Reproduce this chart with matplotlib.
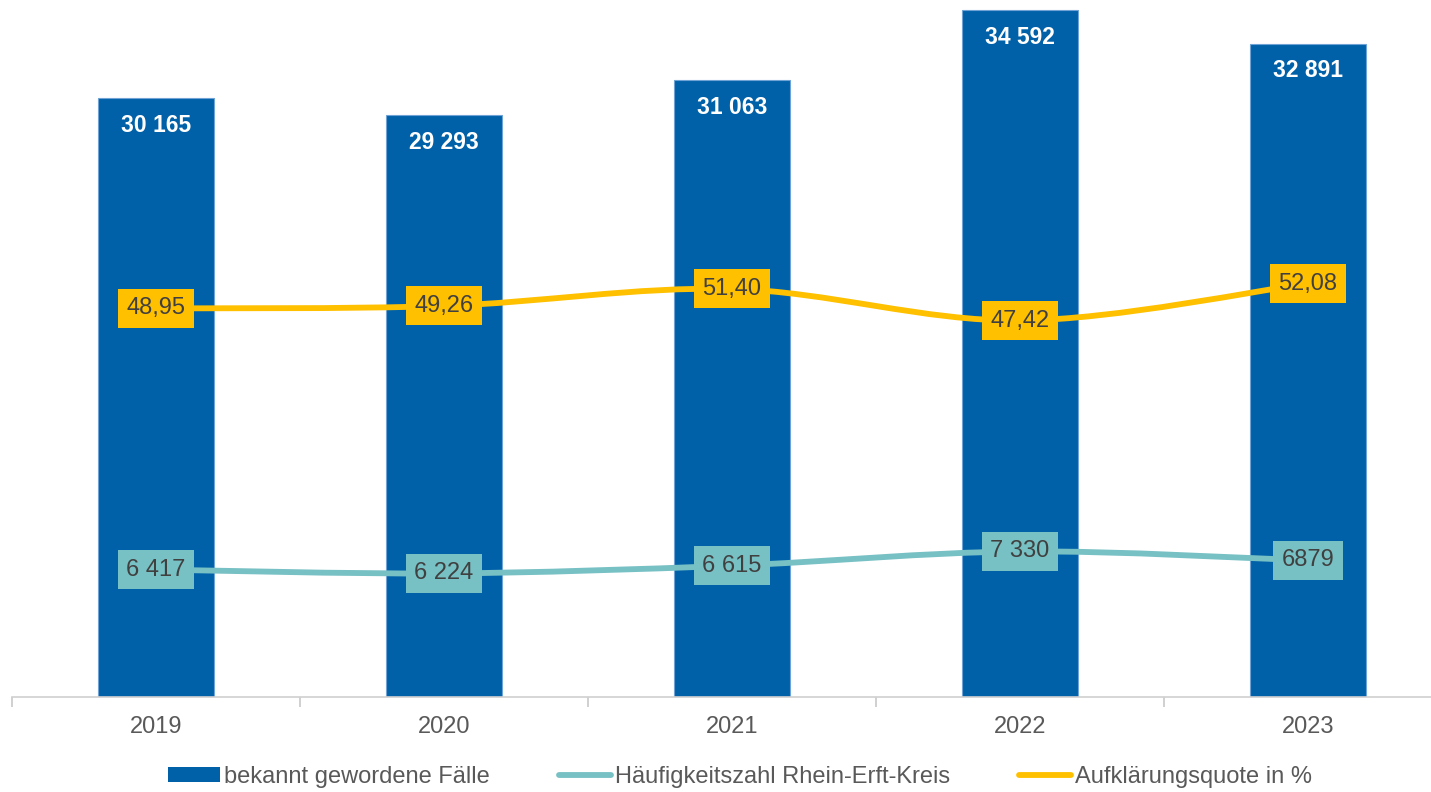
import matplotlib
matplotlib.use("Agg")
import matplotlib.pyplot as plt
from matplotlib.path import Path
from matplotlib.patches import PathPatch, Patch
from matplotlib.lines import Line2D
import numpy as np

plt.rcParams["font.family"] = ["Liberation Sans", "DejaVu Sans"]

# Data
years = ["2019", "2020", "2021", "2022", "2023"]
faelle = [30165, 29293, 31063, 34592, 32891]
faelle_labels = ["30 165", "29 293", "31 063", "34 592", "32 891"]
hz = [6417, 6224, 6615, 7330, 6879]
hz_labels = ["6 417", "6 224", "6 615", "7 330", "6879"]
aq = [48.95, 49.26, 51.40, 47.42, 52.08]
aq_labels = ["48,95", "49,26", "51,40", "47,42", "52,08"]

BLUE = "#0061A8"
TEAL = "#77C0C4"
YELLOW = "#FFC000"
TXT = "#404040"
GREY = "#595959"


def smooth_path(xs, ys):
    """Excel-like smoothed line as cubic Bezier segments through the points."""
    pts = np.column_stack([xs, ys]).astype(float)
    n = len(pts)
    verts = [pts[0]]
    codes = [Path.MOVETO]
    for i in range(n - 1):
        p0 = pts[i - 1] if i > 0 else pts[i]
        p1, p2 = pts[i], pts[i + 1]
        p3 = pts[i + 2] if i + 2 < n else pts[i + 1]
        c1 = p1 + (p2 - p0) / 6.0
        c2 = p2 - (p3 - p1) / 6.0
        verts += [c1, c2, p2]
        codes += [Path.CURVE4] * 3
    return Path(verts, codes)


fig = plt.figure(figsize=(14.31, 7.92), dpi=100)
ax = fig.add_axes([12 / 1431, 95 / 792, 1440 / 1431, 697 / 792])
ax2 = ax.twinx()

x = np.arange(len(years))

# Bars
ax.bar(x, faelle, width=0.40, color=BLUE, edgecolor="#6FA3D6",
       linewidth=0.8, zorder=2)
for xi, v, lab in zip(x, faelle, faelle_labels):
    ax.annotate(lab, (xi, v), xytext=(0, -19.5), textcoords="offset points",
                ha="center", va="center", color="white", fontsize=16.5,
                fontweight="bold", zorder=5)

# Häufigkeitszahl on primary axis
ax.add_patch(PathPatch(smooth_path(x, hz), fill=False, edgecolor=TEAL,
                       lw=4.2, capstyle="round", zorder=3))
for xi, v, lab in zip(x, hz, hz_labels):
    ax.text(xi, v, lab, ha="center", va="center", fontsize=17, color=TXT,
            zorder=6, bbox=dict(boxstyle="square,pad=0.36", fc=TEAL, ec="none"))

# Aufklärungsquote on secondary axis
ax2.add_patch(PathPatch(smooth_path(x, aq), fill=False, edgecolor=YELLOW,
                        lw=4.2, capstyle="round", zorder=3))
for xi, v, lab in zip(x, aq, aq_labels):
    ax2.text(xi, v, lab, ha="center", va="center", fontsize=17, color=TXT,
             zorder=6, bbox=dict(boxstyle="square,pad=0.36", fc=YELLOW, ec="none"))

ax.set_xlim(-0.5, 4.5)
ax.set_ylim(0, 35100)
ax2.set_ylim(0, 87.8)

ax.set_xticks(x)
ax.set_xticklabels(years, fontsize=17, color=GREY)
ax.set_xticks(np.arange(-0.5, 5.0, 1.0), minor=True)
ax.tick_params(axis="x", which="major", length=0, pad=14)
ax.tick_params(axis="x", which="minor", length=7, width=1.2, color="#C8C8C8")
ax.set_yticks([])
ax2.set_yticks([])
for s in ["top", "left", "right"]:
    ax.spines[s].set_visible(False)
for s in ax2.spines.values():
    s.set_visible(False)
ax.spines["bottom"].set_color("#D0D0D0")
ax.spines["bottom"].set_linewidth(1.2)

handles = [
    Patch(facecolor=BLUE, edgecolor="none", label="bekannt gewordene Fälle"),
    Line2D([], [], color=TEAL, lw=4.2, solid_capstyle="round",
           label="Häufigkeitszahl Rhein-Erft-Kreis"),
    Line2D([], [], color=YELLOW, lw=4.2, solid_capstyle="round",
           label="Aufklärungsquote in %"),
]
leg = fig.legend(handles=handles, loc="center", bbox_to_anchor=(740 / 1431, 15 / 792),
                 ncol=3, frameon=False, fontsize=17, handlelength=2.2,
                 handleheight=0.6, handletextpad=0.15, columnspacing=2.95,
                 borderaxespad=0, borderpad=0)
for t in leg.get_texts():
    t.set_color(GREY)

fig.savefig("out.png", dpi=100, facecolor="white")
